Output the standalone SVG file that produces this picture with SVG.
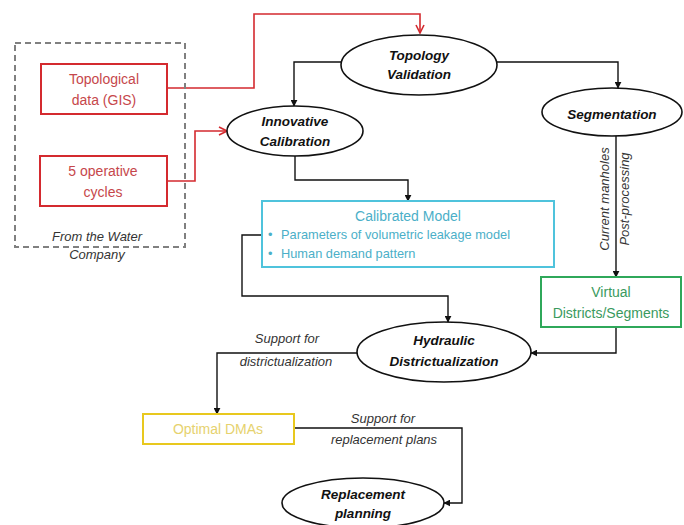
<svg xmlns="http://www.w3.org/2000/svg" width="684" height="525" viewBox="0 0 684 525">
<style>
.ell{fill:#fff;stroke:#111;stroke-width:1.6}
.et{font-family:"Liberation Sans",Arial,sans-serif;font-weight:bold;font-style:italic;font-size:13.5px;fill:#111;text-anchor:middle}
.bt{font-family:"Liberation Sans",Arial,sans-serif;font-size:14px;text-anchor:middle}
.lab{font-family:"Liberation Sans",Arial,sans-serif;font-style:italic;font-size:13px;fill:#333;text-anchor:middle}
.blk{fill:none;stroke:#111;stroke-width:1.4}
.red{fill:none;stroke:#d42a2f;stroke-width:1.6}
</style>
<defs>
<marker id="ab" viewBox="0 0 10 10" refX="9" refY="5" markerWidth="7" markerHeight="7" orient="auto" markerUnits="userSpaceOnUse">
<path d="M0,0 L10,5 L0,10 z" fill="#111"/>
</marker>
<marker id="ar" viewBox="0 0 10 10" refX="9" refY="5" markerWidth="10" markerHeight="10" orient="auto" markerUnits="userSpaceOnUse">
<path d="M1,1 L9,5 L1,9" fill="none" stroke="#d42a2f" stroke-width="1.6"/>
</marker>
</defs>
<rect width="684" height="525" fill="#fff"/>

<g id="connectors">
<polyline class="red" points="167,88 254,88 254,14 420,14 420,33" marker-end="url(#ar)"/>
<polyline class="red" points="167,181 195,181 195,131 227,131" marker-end="url(#ar)"/>
<polyline class="blk" points="341,62 294,62 294,106" marker-end="url(#ab)"/>
<polyline class="blk" points="497,62 618,62 618,88" marker-end="url(#ab)"/>
<polyline class="blk" points="295,156 295,180 408,180 408,201" marker-end="url(#ab)"/>
<polyline class="blk" points="616,136 616,277" marker-end="url(#ab)"/>
<polyline class="blk" points="262,235 242,235 242,296 448,296 448,322" marker-end="url(#ab)"/>
<polyline class="blk" points="616,327 616,353 531,353" marker-end="url(#ab)"/>
<polyline class="blk" points="357,353 217,353 217,414" marker-end="url(#ab)"/>
<polyline class="blk" points="294,428 462,428 462,503 444,503" marker-end="url(#ab)"/>
<text class="lab" x="287" y="343">Support for</text>
<text class="lab" x="286" y="366">districtualization</text>
<text class="lab" x="383" y="423">Support for</text>
<text class="lab" x="384" y="444">replacement plans</text>
<text class="lab" transform="translate(609,199) rotate(-90)">Current manholes</text>
<text class="lab" transform="translate(629,199) rotate(-90)">Post-processing</text>
</g>

<g id="water-company">
<path d="M15,43 L185,43 L185,247 L15,247 Z" fill="none" stroke="#808080" stroke-width="2" stroke-dasharray="6,4"/>
<text class="lab" x="97" y="241">From the Water</text>
<text class="lab" x="97" y="259">Company</text>
</g>

<g id="topological-data">
<rect x="41" y="64" width="126" height="50" fill="#fff" stroke="#d42a2f" stroke-width="2"/>
<text class="bt" x="104" y="84" fill="#c6474b">Topological</text>
<text class="bt" x="104" y="105" fill="#c6474b">data (GIS)</text>
</g>

<g id="operative-cycles">
<rect x="40" y="156" width="127" height="50" fill="#fff" stroke="#d42a2f" stroke-width="2"/>
<text class="bt" x="103" y="176" fill="#c6474b">5 operative</text>
<text class="bt" x="103" y="197" fill="#c6474b">cycles</text>
</g>

<g id="topology-validation">
<ellipse class="ell" cx="419" cy="65" rx="78" ry="30"/>
<text class="et" x="419" y="60">Topology</text>
<text class="et" x="419" y="79">Validation</text>
</g>

<g id="innovative-calibration">
<ellipse class="ell" cx="295" cy="131" rx="68" ry="25"/>
<text class="et" x="295" y="126">Innovative</text>
<text class="et" x="295" y="146">Calibration</text>
</g>

<g id="segmentation">
<ellipse class="ell" cx="612" cy="112" rx="70" ry="24"/>
<text class="et" x="612" y="119">Segmentation</text>
</g>

<g id="calibrated-model">
<rect x="262" y="201" width="292" height="66" fill="#fff" stroke="#4fc3dc" stroke-width="2"/>
<text class="bt" x="408" y="221" fill="#4bafc8" font-size="15">Calibrated Model</text>
<text font-family="Liberation Sans,Arial,sans-serif" font-size="12.8" fill="#4bafc8">
<tspan x="268" y="239">•</tspan><tspan x="281" y="239">Parameters of volumetric leakage model</tspan>
<tspan x="268" y="258">•</tspan><tspan x="281" y="258">Human demand pattern</tspan>
</text>
</g>

<g id="virtual-districts">
<rect x="541" y="277" width="140" height="50" fill="#fff" stroke="#2fa85a" stroke-width="2"/>
<text class="bt" x="611" y="297" fill="#3a9a5e">Virtual</text>
<text class="bt" x="611" y="318" fill="#3a9a5e">Districts/Segments</text>
</g>

<g id="hydraulic-districtualization">
<ellipse class="ell" cx="444" cy="352" rx="87" ry="30"/>
<text class="et" x="444" y="345">Hydraulic</text>
<text class="et" x="444" y="366">Districtualization</text>
</g>

<g id="optimal-dmas">
<rect x="143" y="414" width="151" height="30" fill="#fff" stroke="#e8c81e" stroke-width="2"/>
<text class="bt" x="218" y="434" fill="#e6d26e">Optimal DMAs</text>
</g>

<g id="replacement-planning">
<ellipse class="ell" cx="363" cy="503" rx="81" ry="25"/>
<text class="et" x="363" y="499">Replacement</text>
<text class="et" x="363" y="518">planning</text>
</g>
</svg>
